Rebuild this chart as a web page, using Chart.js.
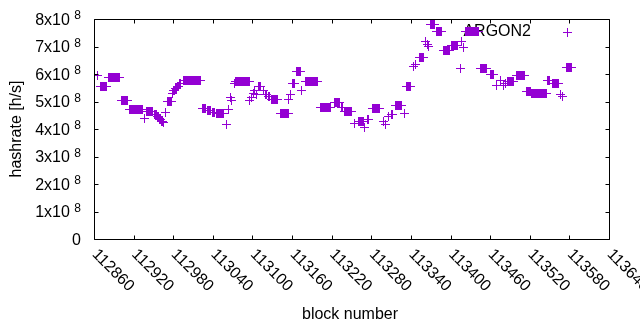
<!DOCTYPE html>
<html><head><meta charset="utf-8">
<script src="https://cdn.jsdelivr.net/npm/chart.js@4"></script>
<style>html,body{margin:0;padding:0;background:#fff}#wrap{width:640px;height:330px}</style>
</head><body><div id="wrap"><canvas id="c" width="640" height="330"></canvas></div>
<script>
// ---- data (hashrate in units of 1e8 h/s, one point per block; runs of equal values) ----
const seriesName = 'ARGON2';
const xTickValues = [112860,112920,112980,113040,113100,113160,113220,113280,113340,113400,113460,113520,113580,113640];
const yTickValues = [0,1,2,3,4,5,6,7,8];
const yTickMantissa = ['0','1x10','2x10','3x10','4x10','5x10','6x10','7x10','8x10'];
const yTickExponent = ['','8','8','8','8','8','8','8','8'];
const xTitle = 'block number';
const yTitle = 'hashrate [h/s]';

const runStart = [112865,112870,112882,112901,112914,112937,112940,112952,112956,112959,112962,112965,112968,112971,
  112979,112981,112984,112987,112990,112995,113024,113032,113039,113045,113060,113063,113066,113068,113073,113074,
  113096,113098,113101,113103,113106,113109,113116,113119,113125,113129,113142,113155,113157,113160,113166,113175,
  113180,113203,113224,113235,113240,113255,113260,113270,113274,113282,113298,113301,113306,113310,113317,113330,
  113334,113344,113347,113353,113362,113365,113367,113369,113378,113389,113402,113415,113417,113420,113422,113445,
  113460,113470,113475,113480,113483,113487,113500,113515,113523,113547,113554,113566,113570,113575];
const runEnd = [112866,112879,112898,112911,112933,112937,112949,112954,112957,112960,112963,112966,112968,112977,
  112979,112982,112985,112988,112991,113022,113029,113037,113043,113056,113060,113064,113066,113068,113073,113095,
  113096,113098,113101,113103,113106,113112,113116,113122,113126,113138,113154,113155,113157,113163,113172,113175,
  113198,113218,113232,113236,113250,113255,113268,113270,113275,113292,113298,113301,113306,113312,113325,113330,
  113339,113344,113347,113359,113362,113365,113367,113375,113386,113398,113411,113415,113417,113420,113443,113455,
  113465,113470,113475,113480,113483,113495,113512,113521,113546,113550,113563,113566,113570,113583];
const runValue = [5.94,5.55,5.88,5.04,4.72,4.39,4.64,4.53,4.45,4.36,4.29,4.23,4.61,5.01,
  5.30,5.39,5.48,5.56,5.64,5.77,4.74,4.68,4.61,4.55,4.17,4.72,5.15,5.05,5.66,5.73,
  5.03,5.15,5.30,5.39,5.24,5.54,5.39,5.27,5.17,5.08,4.57,5.09,5.26,5.66,6.10,5.39,
  5.73,4.80,4.97,4.77,4.63,4.21,4.28,4.05,4.36,4.75,4.29,4.17,4.47,4.53,4.87,4.57,
  5.53,6.27,6.35,6.59,7.17,7.08,6.99,7.81,7.53,6.87,7.05,6.21,7.20,6.96,7.56,6.21,
  5.99,5.60,5.78,5.57,5.66,5.73,5.95,5.38,5.30,5.78,5.66,5.24,5.17,6.23];

const COLOR = '#9400D3';
const FONT = '"Liberation Sans", Arial, sans-serif';

const points = [];
for (let i = 0; i < runStart.length; i++) {
  for (let b = runStart[i]; b <= runEnd[i]; b++) points.push({x: b, y: runValue[i]});
}

// crisp "+" marker image
const plus = document.createElement('canvas');
plus.width = 9; plus.height = 9;
(function () {
  const g = plus.getContext('2d');
  g.fillStyle = COLOR;
  g.fillRect(0, 4, 9, 1);
  g.fillRect(4, 0, 1, 9);
})();

const deco = {
  id: 'deco',
  beforeDatasetsDraw(chart) {
    const ctx = chart.ctx;
    ctx.save();
    ctx.font = '16px ' + FONT;
    ctx.fillStyle = '#000';
    ctx.textAlign = 'right';
    ctx.textBaseline = 'middle';
    ctx.fillText(seriesName, 531, 32);
    ctx.fillStyle = COLOR;
    ctx.fillRect(563, 32, 9, 1);
    ctx.fillRect(567, 28, 1, 9);
    ctx.restore();
    ctx.imageSmoothingEnabled = false;
  },
  afterDatasetsDraw(chart) {
    const ctx = chart.ctx;
    ctx.imageSmoothingEnabled = true;
    const xs = chart.scales.x, ys = chart.scales.y;
    const ca = chart.chartArea;
    const L = Math.round(ca.left) + 0.5, R = Math.round(ca.right) + 0.5;
    const T = Math.round(ca.top) + 0.5, B = Math.round(ca.bottom) + 0.5;
    ctx.save();
    ctx.strokeStyle = '#000'; ctx.lineWidth = 1;
    ctx.beginPath();
    ctx.rect(L, T, R - L, B - T);
    const tl = 4;
    xTickValues.forEach(v => {
      const px = Math.round(xs.getPixelForValue(v)) + 0.5;
      ctx.moveTo(px, B); ctx.lineTo(px, B - tl);
      ctx.moveTo(px, T); ctx.lineTo(px, T + tl);
    });
    yTickValues.forEach(v => {
      const py = Math.round(ys.getPixelForValue(v)) + 0.5;
      ctx.moveTo(L, py); ctx.lineTo(L + tl, py);
      ctx.moveTo(R, py); ctx.lineTo(R - tl, py);
    });
    ctx.stroke();

    ctx.fillStyle = '#000';
    const rightEdge = 81;
    yTickValues.forEach((v, i) => {
      const py = ys.getPixelForValue(v);
      ctx.textBaseline = 'middle';
      ctx.textAlign = 'right';
      if (yTickExponent[i]) {
        ctx.font = '12px ' + FONT;
        const w = ctx.measureText(yTickExponent[i]).width;
        ctx.fillText(yTickExponent[i], rightEdge, py - 3);
        ctx.font = '16px ' + FONT;
        ctx.fillText(yTickMantissa[i], rightEdge - w - 4.5, py + 1.5);
      } else {
        ctx.font = '16px ' + FONT;
        ctx.fillText(yTickMantissa[i], rightEdge, py + 1.5);
      }
    });
    ctx.font = '16px ' + FONT;
    xTickValues.forEach(v => {
      const px = xs.getPixelForValue(v);
      ctx.save();
      ctx.translate(px + 0.5, 252);
      ctx.rotate(Math.PI / 4);
      ctx.textAlign = 'left';
      ctx.textBaseline = 'middle';
      ctx.fillText(String(v), 0, 0);
      ctx.restore();
    });
    ctx.textAlign = 'center';
    ctx.textBaseline = 'middle';
    ctx.fillText(xTitle, 350, 315);
    ctx.save();
    ctx.translate(17, 129);
    ctx.rotate(-Math.PI / 2);
    ctx.fillText(yTitle, 0, 0);
    ctx.restore();
    ctx.restore();
  }
};

new Chart(document.getElementById('c'), {
  type: 'scatter',
  data: {datasets: [{
    label: seriesName, data: points, pointStyle: plus, pointRadius: 4, pointHoverRadius: 4,
    borderColor: COLOR, backgroundColor: COLOR, borderWidth: 1
  }]},
  options: {
    responsive: false, animation: false, devicePixelRatio: 1, events: [],
    layout: {padding: {left: 94, right: 31, top: 19, bottom: 91}},
    plugins: {legend: {display: false}, tooltip: {enabled: false}},
    scales: {
      x: {type: 'linear', min: 112860, max: 113640, display: false},
      y: {type: 'linear', min: 0, max: 8, display: false}
    }
  },
  plugins: [deco]
});
</script>
</body></html>
